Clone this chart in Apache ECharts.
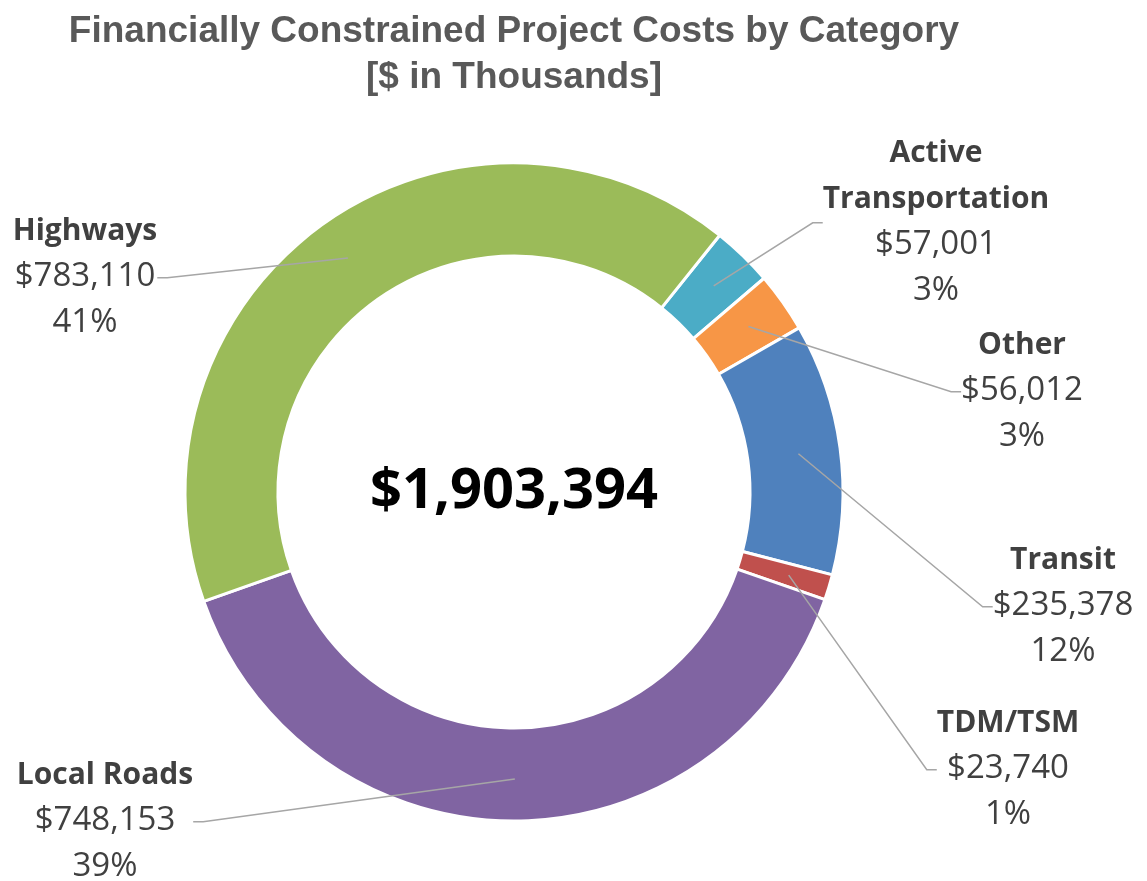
<!DOCTYPE html>
<html lang="en">
<head>
    <meta charset="UTF-8">
    <title>Financially Constrained Project Costs by Category</title>
    <script type="text/javascript" src="https://cdn.jsdelivr.net/npm/echarts@6/dist/echarts.min.js"></script>
    <style>
        html, body { margin: 0; padding: 0; background: #fff; }
        #chart { width: 1147px; height: 881px; }
    </style>
</head>
<body>
<div id="chart"></div>
<script type="text/javascript">
    // categories in drawing order, clockwise from the top-right
    var categories = ['Active\nTransportation', 'Other', 'Transit', 'TDM/TSM', 'Local Roads', 'Highways'];
    var costs = [57001, 56012, 235378, 23740, 748153, 783110];
    var colors = ['#4BACC6', '#F79646', '#4F81BD', '#C0504D', '#8064A2', '#9BBB59'];
    var titleLines = ['Financially Constrained Project Costs by Category', '[$ in Thousands]'];

    // where each label block sits (center of block)
    var labelPos = [[936, 222], [1022, 391], [1063, 606], [1008, 769], [105, 821], [85, 277]];

    var cx = 514, cy = 492;

    function fmt(n) {
        return '$' + n.toString().replace(/\B(?=(\d{3})+(?!\d))/g, ',');
    }

    var total = 0;
    for (var i = 0; i < costs.length; i++) total += costs[i];

    var ringData = [];
    var labelData = [];
    for (var i = 0; i < categories.length; i++) {
        ringData.push({ name: categories[i], value: costs[i], itemStyle: { color: colors[i] } });
        labelData.push({ name: categories[i], value: costs[i] });
    }

    var chart = echarts.init(document.getElementById('chart'));
    var option = {
        animation: false,
        title: {
            text: titleLines.join('\n'),
            left: cx,
            top: 9,
            padding: 0,
            textAlign: 'center',
            textStyle: {
                fontFamily: 'Liberation Sans',
                fontSize: 37,
                fontWeight: 'bold',
                color: '#595959',
                lineHeight: 46
            }
        },
        graphic: [{
            type: 'text',
            x: cx,
            y: cy,
            style: {
                text: fmt(total),
                fontFamily: 'Open Sans',
                fontSize: 56,
                fontWeight: 'bold',
                fill: '#000',
                align: 'center',
                verticalAlign: 'middle'
            }
        }],
        series: [
            {
                type: 'pie',
                center: [cx, cy],
                radius: [236, 329],
                startAngle: 51.3,
                silent: true,
                label: { show: false },
                labelLine: { show: false },
                itemStyle: { borderColor: '#fff', borderWidth: 3 },
                data: ringData
            },
            {
                // invisible copy on top, only carries the labels and leader lines
                type: 'pie',
                z: 5,
                center: [cx, cy],
                radius: [0, 287],
                startAngle: 51.3,
                silent: true,
                avoidLabelOverlap: false,
                itemStyle: { color: 'rgba(0,0,0,0)', borderWidth: 0 },
                label: {
                    show: true,
                    position: 'outside',
                    formatter: function (p) {
                        return '{n|' + p.name + '}\n{v|' + fmt(p.value) + '}\n{v|' + Math.round(p.percent) + '%}';
                    },
                    rich: {
                        n: { fontFamily: 'Open Sans', fontSize: 30, fontWeight: 'bold', color: '#404040', lineHeight: 46, align: 'center' },
                        v: { fontFamily: 'Open Sans', fontSize: 33, color: '#404040', lineHeight: 46, align: 'center' }
                    }
                },
                labelLine: {
                    show: true,
                    length: 0,
                    length2: 10,
                    lineStyle: { color: '#A6A6A6', width: 1.5 }
                },
                labelLayout: function (params) {
                    var pos = labelPos[params.dataIndex];
                    return { x: pos[0], y: pos[1], align: 'center', verticalAlign: 'middle' };
                },
                data: labelData
            }
        ]
    };
    chart.setOption(option);
</script>
</body>
</html>
